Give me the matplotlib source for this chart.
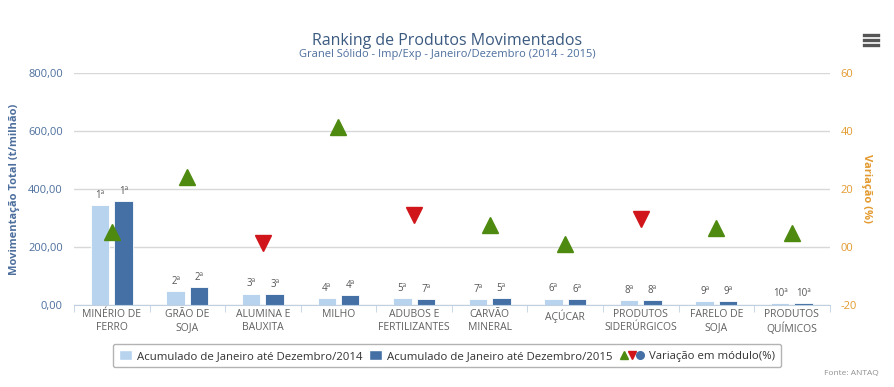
import matplotlib
matplotlib.use('Agg')
import matplotlib.pyplot as plt
import numpy as np
from matplotlib.lines import Line2D
from matplotlib.patches import Patch
from matplotlib.legend_handler import HandlerBase

plt.rcParams['font.family'] = ['Open Sans', 'DejaVu Sans']

# Data
categorias = ['MINÉRIO DE\nFERRO', 'GRÃO DE\nSOJA', 'ALUMINA E\nBAUXITA', 'MILHO',
              'ADUBOS E\nFERTILIZANTES', 'CARVÃO\nMINERAL', 'AÇÚCAR',
              'PRODUTOS\nSIDERÚRGICOS', 'FARELO DE\nSOJA', 'PRODUTOS\nQUÍMICOS']
mov_2014 = [345, 49, 39, 24, 24, 20, 22, 17, 14, 7]
mov_2015 = [359, 61, 38, 33, 20.5, 22.5, 21.5, 17, 14, 7]
rank_2014 = ['1ª', '2ª', '3ª', '4ª', '5ª', '7ª', '6ª', '8ª', '9ª', '10ª']
rank_2015 = ['1ª', '2ª', '3ª', '4ª', '7ª', '5ª', '6ª', '8ª', '9ª', '10ª']
variacao = [5.3, 24.2, 1.3, 41.3, 11.0, 7.6, 1.0, 9.6, 6.4, 4.7]
sobe = [True, True, False, True, False, True, True, False, True, True]

c_light = '#b8d3ee'
c_dark = '#4470a5'
c_up = '#4f8a10'
c_down = '#d0161b'
c_left = '#4d6f9e'
c_right = '#e39a2e'


class TripleMarker(HandlerBase):
    # draws the three little markers of the variation series side by side
    def legend_artist(self, legend, orig_handle, fontsize, handlebox):
        step = 0.72 * fontsize
        handlebox.width = 3 * step
        y = handlebox.height / 2 - handlebox.ydescent
        out = []
        for k, (m, c) in enumerate(orig_handle):
            ln = Line2D([step * (k + 0.5)], [y], marker=m, color=c, linestyle='none',
                        markersize=5.5, transform=handlebox.get_transform())
            handlebox.add_artist(ln)
            out.append(ln)
        return out[0]


fig = plt.figure(figsize=(8.94, 3.87), dpi=100)
ax = fig.add_axes([0.0828, 0.212, 0.8452, 0.6])
ax2 = ax.twinx()

x = np.arange(len(categorias))
w = 0.245
off = 0.155
ax.bar(x - off, mov_2014, w, color=c_light, edgecolor='white', linewidth=0.6, zorder=2)
ax.bar(x + off, mov_2015, w, color=c_dark, edgecolor='white', linewidth=0.6, zorder=2)

for i in range(len(x)):
    ax.annotate(rank_2014[i], (x[i] - off, mov_2014[i]), xytext=(0, 3), textcoords='offset points',
                ha='center', va='bottom', fontsize=7, color='#555555')
    ax.annotate(rank_2015[i], (x[i] + off, mov_2015[i]), xytext=(0, 3), textcoords='offset points',
                ha='center', va='bottom', fontsize=7, color='#555555')

for i in range(len(x)):
    if sobe[i]:
        ax2.plot(x[i], variacao[i], marker='^', markersize=11, color=c_up, linestyle='none', zorder=5)
    else:
        ax2.plot(x[i], variacao[i], marker='v', markersize=11, color=c_down, linestyle='none', zorder=5)

ax.set_xlim(-0.5, len(x) - 0.5)
ax.set_ylim(0, 800)
ax2.set_ylim(-20, 60)
ax.set_yticks([0, 200, 400, 600, 800])
ax.set_yticklabels(['0,00', '200,00', '400,00', '600,00', '800,00'])
ax2.set_yticks([-20, 0, 20, 40, 60])
ax2.set_yticklabels(['-20', '00', '20', '40', '60'])

ax.grid(axis='y', color='#d8d8d8', linewidth=1)
ax.set_axisbelow(True)
for a in (ax, ax2):
    for s in ['top', 'left', 'right']:
        a.spines[s].set_visible(False)
    a.spines['bottom'].set_color('#c0d0e0')
ax2.spines['bottom'].set_visible(False)

ax.tick_params(axis='y', length=0, labelsize=8, labelcolor=c_left, pad=8)
ax2.tick_params(axis='y', length=0, labelsize=8, labelcolor=c_right, pad=8)

ax.set_xticks(x)
ax.set_xticklabels(categorias, fontsize=7.5, color='#606060', linespacing=1.2)
ax.tick_params(axis='x', length=0, pad=3)
ax.set_xticks(np.arange(-0.5, len(x), 1), minor=True)
ax.tick_params(axis='x', which='minor', length=5, color='#c0d0e0')

ax.set_ylabel('Movimentação Total (t/milhão)', fontsize=8, fontweight='bold', color=c_left, labelpad=6)
ax2.set_ylabel('Variação (%)', fontsize=8, fontweight='bold', color=c_right, rotation=270, labelpad=11)

fig.text(0.5, 0.895, 'Ranking de Produtos Movimentados', ha='center', va='center',
         fontsize=11.5, color='#3b5a80')
fig.text(0.5, 0.858, 'Granel Sólido - Imp/Exp - Janeiro/Dezembro (2014 - 2015)', ha='center', va='center',
         fontsize=8, color='#4d6f9e')
fig.text(0.983, 0.035, 'Fonte: ANTAQ', ha='right', va='center', fontsize=6, color='#909090')

# menu icon
for yy in [0.909, 0.896, 0.883]:
    fig.add_artist(Line2D([0.966, 0.982], [yy, yy], color='#555555', linewidth=2.4))

h_var = (('^', c_up), ('v', c_down), ('o', c_dark))
handles = [Patch(facecolor=c_light, edgecolor='white'), Patch(facecolor=c_dark, edgecolor='white'), h_var]
labels = ['Acumulado de Janeiro até Dezembro/2014', 'Acumulado de Janeiro até Dezembro/2015',
          'Variação em módulo(%)']
leg = fig.legend(handles, labels, loc='center', bbox_to_anchor=(0.5, 0.081), ncol=3, fontsize=8.2,
                 frameon=True, fancybox=True, edgecolor='#a0a0a0', handlelength=1.15, handleheight=1.0,
                 handletextpad=0.45, columnspacing=0.6, borderpad=0.5,
                 handler_map={tuple: TripleMarker()})
for t in leg.get_texts():
    t.set_color('#333333')
leg.get_frame().set_linewidth(1)

fig.savefig('out.png', dpi=100)
